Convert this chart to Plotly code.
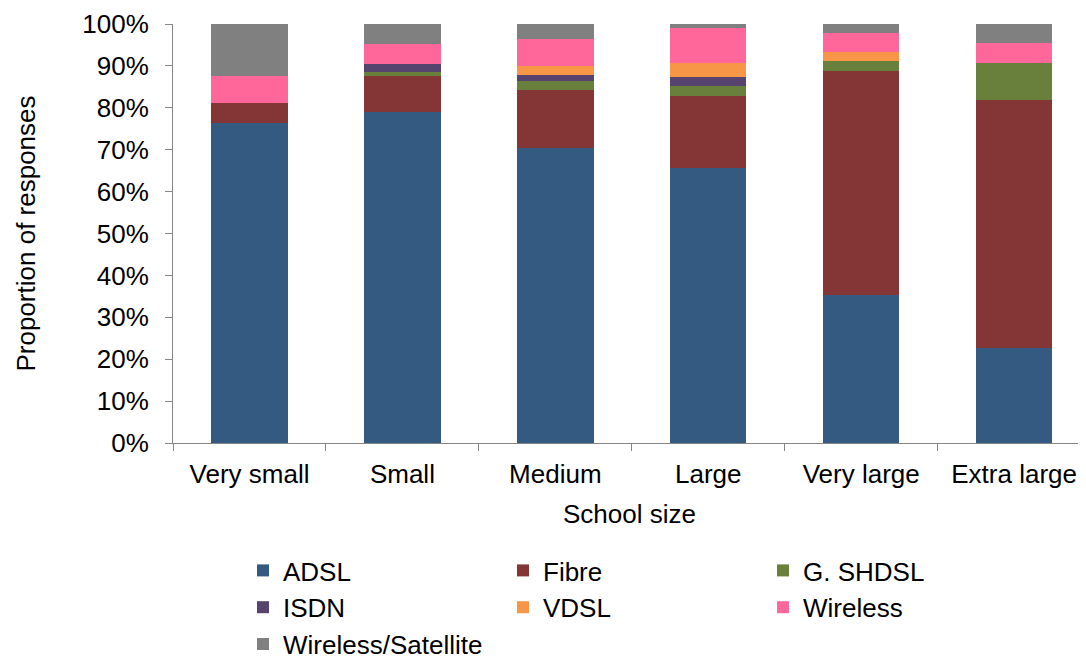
import plotly.graph_objects as go

categories = ["Very small", "Small", "Medium", "Large", "Very large", "Extra large"]
adsl = [76.3, 79.1, 70.4, 65.7, 35.4, 22.7]
fibre = [4.9, 8.5, 13.8, 17.2, 53.5, 59.1]
g_shdsl = [0.0, 1.0, 2.1, 2.3, 2.2, 9.0]
isdn = [0.0, 1.9, 1.5, 2.2, 0.0, 0.0]
vdsl = [0.0, 0.0, 2.2, 3.4, 2.2, 0.0]
wireless = [6.5, 4.7, 6.5, 8.2, 4.6, 4.7]
wireless_sat = [12.3, 4.8, 3.5, 1.0, 2.1, 4.5]

series = [
    ("ADSL", adsl, "#355A82"),
    ("Fibre", fibre, "#843535"),
    ("G. SHDSL", g_shdsl, "#68803C"),
    ("ISDN", isdn, "#56446F"),
    ("VDSL", vdsl, "#F79646"),
    ("Wireless", wireless, "#FF6699"),
    ("Wireless/Satellite", wireless_sat, "#808080"),
]

fig = go.Figure()
for name, vals, col in series:
    fig.add_trace(go.Bar(
        x=categories, y=[v / 100 for v in vals], name=name,
        marker=dict(color=col, line=dict(width=0)),
    ))

W, H = 1078, 652
ML, MT, MB = 165, 16, 217

fig.update_layout(
    barmode="stack",
    bargap=0.5,
    width=W, height=H,
    margin=dict(l=ML, r=0, t=MT, b=MB, autoexpand=False),
    plot_bgcolor="white", paper_bgcolor="white",
    font=dict(family="Liberation Sans, Arial, sans-serif", size=26, color="#000000"),
    xaxis=dict(
        range=[-0.5, 5.47], showline=True, linecolor="#868686", linewidth=1,
        ticks="outside", tickson="boundaries", ticklen=7, tickcolor="#868686",
        ticklabelstandoff=8,
        title=dict(text="School size", standoff=16, font=dict(size=26)),
        tickfont=dict(size=26),
    ),
    yaxis=dict(
        range=[0, 1], tickformat=".0%", dtick=0.1, showgrid=False,
        showline=True, linecolor="#868686", linewidth=1,
        ticks="outside", ticklen=7, tickcolor="#868686",
        ticklabelstandoff=11,
        title=dict(text="Proportion of responses", standoff=39, font=dict(size=26)),
        tickfont=dict(size=26), zeroline=False,
    ),
    legend=dict(
        orientation="h", x=(243 - 8 - ML) / (W - ML), xanchor="left",
        yref="container", y=1 - (547 - 8) / H, yanchor="top",
        entrywidth=215, entrywidthmode="pixels",
        font=dict(size=26), itemwidth=30, traceorder="normal",
    ),
    showlegend=True,
)

fig.write_html("out.html")
